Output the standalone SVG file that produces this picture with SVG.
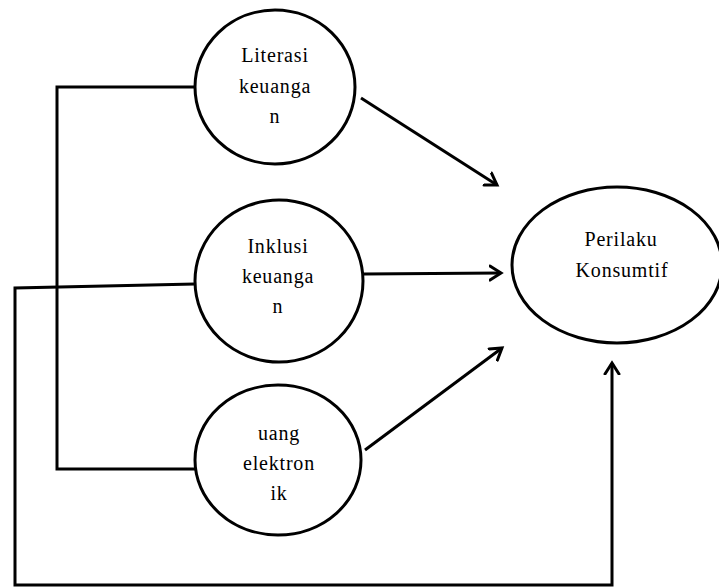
<svg xmlns="http://www.w3.org/2000/svg" width="719" height="588" viewBox="0 0 719 588">
<style>
.n{fill:#fff;stroke:#000;stroke-width:3}
.t{font-family:"Liberation Serif",serif;font-size:20px;fill:#000;text-anchor:middle;letter-spacing:0.8px}
.c{fill:none;stroke:#000;stroke-width:3}
</style>
<defs>
<marker id="ah" markerUnits="userSpaceOnUse" markerWidth="20" markerHeight="20" refX="12" refY="8" orient="auto" viewBox="0 0 20 16">
<path d="M1,1 L12,8 L1,15" fill="none" stroke="#000" stroke-width="3" stroke-linecap="round" stroke-linejoin="miter"/>
</marker>
</defs>
<rect width="719" height="588" fill="#fff"/>
<g id="connectors">
<polyline class="c" points="195,87 57,87 57,469 195,469"/>
<polyline class="c" points="195,284 15,288 15,585 612,585 612,363" marker-end="url(#ah)"/>
<line class="c" x1="361" y1="98" x2="497" y2="185" marker-end="url(#ah)"/>
<line class="c" x1="364" y1="274" x2="501" y2="273" marker-end="url(#ah)"/>
<line class="c" x1="365" y1="450" x2="502" y2="348" marker-end="url(#ah)"/>
</g>
<g id="literasi">
<ellipse class="n" cx="275" cy="87" rx="80" ry="77"/>
<text class="t" x="275" y="62">Literasi</text>
<text class="t" x="275" y="93">keuanga</text>
<text class="t" x="275" y="123">n</text>
</g>
<g id="inklusi">
<ellipse class="n" cx="279" cy="281" rx="84" ry="81"/>
<text class="t" x="278" y="253">Inklusi</text>
<text class="t" x="278" y="283">keuanga</text>
<text class="t" x="278" y="313">n</text>
</g>
<g id="uang">
<ellipse class="n" cx="278" cy="460" rx="83" ry="75"/>
<text class="t" x="279" y="440">uang</text>
<text class="t" x="279" y="470">elektron</text>
<text class="t" x="279" y="500">ik</text>
</g>
<g id="perilaku">
<ellipse class="n" cx="617" cy="265" rx="105" ry="78"/>
<text class="t" x="621" y="246">Perilaku</text>
<text class="t" x="622" y="277">Konsumtif</text>
</g>
</svg>
